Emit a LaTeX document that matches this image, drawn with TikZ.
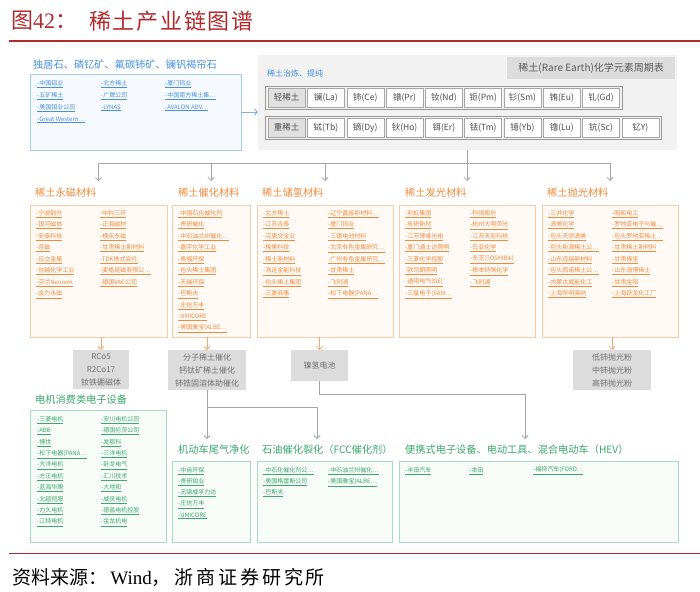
\documentclass[tikz,border=0pt]{standalone}
\usepackage{fontspec}
\setmainfont{Noto Sans CJK SC}
\newfontfamily\lserif{Liberation Serif}
\newfontfamily\titlefont[LetterSpace=8]{Noto Sans CJK SC}
\newfontfamily\srcfont[LetterSpace=15]{Noto Sans CJK SC}
\usetikzlibrary{arrows.meta}
\definecolor{titred}{HTML}{B22A2E}
\definecolor{bl}{HTML}{4A8FDB}
\definecolor{blborder}{HTML}{A9CBF0}
\definecolor{blfill}{HTML}{F6FAFF}
\definecolor{orx}{HTML}{F08A3C}
\definecolor{orborder}{HTML}{F9CBAA}
\definecolor{orfill}{HTML}{FFFAF6}
\definecolor{orarrow}{HTML}{F4A870}
\definecolor{grx}{HTML}{3DA86A}
\definecolor{grborder}{HTML}{A7DDBE}
\definecolor{grfill}{HTML}{F7FCF9}
\definecolor{gbox}{HTML}{DCDCDC}
\definecolor{gtext}{HTML}{707070}
\definecolor{conn}{HTML}{A6A6A6}
\definecolor{ptbg}{HTML}{F2F2F2}
\newcommand{\itemcol}[6]{\foreach \t [count=\i] in {#6} {\node[#2] (#1\i) at (#3,{#4+#5*(\i-1)}) {\underline{-\t}};}}
\tikzset{
  box/.style={anchor=north west, inner sep=0pt, outer sep=0pt, line width=1pt},
  obox/.style={box, draw=orborder, fill=orfill},
  gbx/.style={box, draw=grborder, fill=grfill},
  ttl/.style={anchor=west, inner sep=0pt, font=\fontsize{10.2}{12}\selectfont},
  itm/.style={anchor=west, inner sep=0pt, font=\fontsize{6}{7}\selectfont},
  bitm/.style={itm, text=bl},
  oitm/.style={itm, text=orx},
  gitm/.style={itm, text=grx},
  graybox/.style={box, fill=gbox, text=gtext, align=center, font=\fontsize{8}{13}\selectfont},
  cell/.style={draw=black!35, fill=white, line width=0.5pt, minimum width=37pt, minimum height=19pt, inner sep=0pt, font=\fontsize{8.5}{10}\selectfont, text=black!70},
  ptframe/.style={draw=black!40, line width=0.6pt},
  cn/.style={draw=conn, line width=0.8pt},
  cna/.style={cn, -{Straight Barb[length=3pt,width=6pt]}},
  ora/.style={draw=orarrow, line width=0.8pt, -{Straight Barb[length=3pt,width=6pt]}},
  bla/.style={draw=bl!70, line width=0.8pt, -{Straight Barb[length=3pt,width=6pt]}},
}
\begin{document}
\begin{tikzpicture}[x=1pt,y=-1pt]
\useasboundingbox (0,0) rectangle (700,591);
\fill[white] (0,0) rectangle (700,591);
% header
\node[anchor=west, inner sep=0pt, text=titred, font=\fontsize{22}{24}\selectfont] (fig) at (11,21) {图{\lserif 42}：};
\node[anchor=west, inner sep=0pt, text=titred, font=\fontsize{22}{24}\selectfont] (ttl) at (89,21) {\titlefont 稀土产业链图谱};
\draw[titred, line width=1.2pt] (9,41) -- (700,41);
% ore box
\node[ttl, text=bl] (oreT) at (33,65) {独居石、磷钇矿、氟碳铈矿、镧钒褐帘石};
\node[box, draw=blborder, fill=blfill, minimum width=211pt, minimum height=75pt] (ore) at (30,75) {};
\itemcol{oreA}{bitm}{37}{84}{12}{中国铝业,五矿稀土,美国钼业公司,Great Western…}
\itemcol{oreB}{bitm}{101}{84}{12}{北方稀土,广晟公司,LYNAS}
\itemcol{oreC}{bitm}{165}{84}{12}{厦门钨业,中国南方稀土集…,AVALON ADV…}
% periodic table
\node[box, fill=ptbg, minimum width=419pt, minimum height=95pt] (pt) at (258,55) {};
\node[anchor=west, inner sep=0pt, text=bl, font=\fontsize{8}{9}\selectfont] (ptL) at (267,73) {稀土治炼、提纯};
\node[anchor=north west, fill=gbox, minimum width=168pt, minimum height=22pt, inner sep=0pt, text=black!65, font=\fontsize{10}{12}\selectfont] (ptB) at (507,57) {稀土(Rare Earth)化学元素周期表};
\draw[ptframe] (265.5,86) rectangle (622.5,109);
\node[cell, fill=black!12] (r1c0) at (286.65,97.5) {轻稀土};
\foreach \t [count=\i] in {镧(La),铈(Ce),镨(Pr),钕(Nd),钷(Pm),钐(Sm),铕(Eu),钆(Gd)} {\node[cell] (r1c\i) at ({267+39.3*(\i+0.5)},97.5) {\t};}
\draw[ptframe] (265.5,116) rectangle (661.5,139);
\node[cell, fill=black!12] (r2c0) at (286.65,127.5) {重稀土};
\foreach \t [count=\i] in {铽(Tb),镝(Dy),钬(Ho),铒(Er),铥(Tm),镱(Yb),镥(Lu),钪(Sc),钇Y)} {\node[cell] (r2c\i) at ({267+39.3*(\i+0.5)},127.5) {\t};}
\draw[bla] (ore.east |- 0,112) -- (pt.west |- 0,112);
% orange boxes
\node[ttl, text=orx] (pmT) at (35,193) {稀土永磁材料};
\node[ttl, text=orx] (catT) at (178,193) {稀土催化材料};
\node[ttl, text=orx] (hsT) at (262,193) {稀土储氢材料};
\node[ttl, text=orx] (lumT) at (405,193) {稀土发光材料};
\node[ttl, text=orx] (polT) at (547,193) {稀土抛光材料};
\node[obox, minimum width=137pt, minimum height=132pt] (pm) at (30,205) {};
\node[obox, minimum width=78pt, minimum height=132pt] (cat) at (172,205) {};
\node[obox, minimum width=136pt, minimum height=132pt] (hs) at (257,205) {};
\node[obox, minimum width=136pt, minimum height=132pt] (lum) at (399,205) {};
\node[obox, minimum width=136pt, minimum height=132pt] (pol) at (542,205) {};
\itemcol{pmA}{oitm}{36}{214}{11.5}{宁波韵升,银河磁体,安泰科技,京磁,日立金属,信越化学工业,芬兰Neorem,金力永磁}
\itemcol{pmB}{oitm}{100}{214}{11.5}{中科三环,正海磁材,横店东磁,甘肃稀土新材料,TDK株式会社,麦格昆磁有限公…,德国VAC公司}
\itemcol{catA}{oitm}{178}{214}{11.5}{中国石化催化剂,贵研催化,中石油兰州催化…,嘉宇化学工业,奥福环保,包头稀土集团,天瑞环保,巴斯夫,庄信万丰,UMICORE,美国雅宝(ALBE…}
\itemcol{hsA}{oitm}{263}{214}{11.5}{北方稀土,江苏吉泰,汉唐文宝业,稀美科技,稀土新材料,浩运金能科技,包头稀土集团,三菱商事}
\itemcol{hsB}{oitm}{328}{214}{11.5}{辽宁鑫普新材料…,厦门钨业,三德电池材料,北京有色金属研究…,广州有色金属研究…,甘肃稀土,飞利浦,松下电器(PANA…}
\itemcol{lumA}{oitm}{405}{214}{11.5}{彩虹集团,有研新材,江苏博睿光电,厦门通士达照明,三菱化学控股,欧司朗照明,通用电气(GE),三星电子(SAM…}
\itemcol{lumB}{oitm}{470}{214}{11.5}{科恒股份,杭州大明荧光,江苏天彩科技,日亚化学,东芝(TOSHIBA),根本特殊化学,飞利浦}
\itemcol{polA}{oitm}{548}{214}{11.5}{三井化学,清美化学,包头天骄清美,包头新源稀土公…,山东迈瑞新材料,包头西诺稀土公…,内蒙古威能化工,上海华明高纳}
\itemcol{polB}{oitm}{612}{214}{11.5}{昭和电工,罗地亚电子与催…,包头罗地亚稀土…,甘肃稀土新材料,甘肃稀宝,山东淄博稀土,甘肃金阳,上海跃龙化工厂}
% tree from periodic table
\coordinate (bus) at (0,163);
\coordinate (tip) at (0,181);
\draw[cn] (lum.north |- pt.south) -- (lum.north |- bus);
\draw[cn] (pm.north |- bus) -- (pol.north |- bus);
\foreach \b in {pm,cat,hs,lum,pol} {\draw[cna] (\b.north |- bus) -- (\b.north |- tip);}
% gray boxes
\node[graybox, minimum width=56pt, minimum height=39pt] (gA) at (73,350) {RCo5\\R2Co17\\钕铁硼磁体};
\node[graybox, minimum width=78pt, minimum height=40pt] (gB) at (168,350) {分子稀土催化\\钙钛矿稀土催化\\铈锆固溶体助催化};
\node[graybox, minimum width=57pt, minimum height=31pt] (gC) at (291,350) {镍氢电池};
\node[graybox, minimum width=78pt, minimum height=40pt] (gD) at (573,350) {低铈抛光粉\\中铈抛光粉\\高铈抛光粉};
\draw[ora] (gA.north |- pm.south) -- (gA.north);
\draw[ora] (gB.north |- cat.south) -- (gB.north);
\draw[ora] (gC.north |- hs.south) -- (gC.north);
\draw[ora] (gD.north |- pol.south) -- (gD.north);
% green boxes
\node[ttl, text=grx] (motT) at (35,400) {电机消费类电子设备};
\node[gbx, minimum width=136pt, minimum height=132pt] (mot) at (30,410) {};
\itemcol{motA}{gitm}{37}{420}{11.4}{三菱电机,ABB,博世,松下电器(PANA…,大洋电机,方正电机,蓝海华腾,北超伺服,力久电机,江特电机}
\itemcol{motB}{gitm}{101}{420}{11.4}{安川电机公司,德国伦茨公司,发那科,三洋电机,卧龙电气,汇川技术,大地和,威灵电机,德昌电机控股,金龙机电}
\node[ttl, text=grx] (autoT) at (178,450) {机动车尾气净化};
\node[ttl, text=grx] (fccT) at (262,450) {石油催化裂化（FCC催化剂）};
\node[ttl, text=grx] (hevT) at (405,450) {便携式电子设备、电动工具、混合电动车（HEV）};
\node[gbx, minimum width=78pt, minimum height=81pt] (auto) at (172,461) {};
\node[gbx, minimum width=135pt, minimum height=81pt] (fcc) at (257,461) {};
\node[gbx, minimum width=279pt, minimum height=81pt] (hev) at (399,461) {};
\itemcol{autoA}{gitm}{178}{471}{11.2}{中自环保,贵研铂业,无锡威孚力达,庄信万丰,UMICORE}
\itemcol{fccA}{gitm}{263}{471}{11.2}{中石化催化剂公…,美国格雷斯公司,巴斯夫}
\itemcol{fccB}{gitm}{328}{471}{11.2}{中石油兰州催化…,美国雅宝(ALBE…}
\node[gitm] (hevA) at (405,471) {\underline{-丰田汽车}};
\node[gitm] (hevB) at (469,471) {\underline{-本田}};
\node[gitm] (hevC) at (533,471) {\underline{-福特汽车(FORD…}};
% connectors from gray boxes
\coordinate (bus2) at (0,407);
\coordinate (tip2) at (0,439);
\coordinate (bus3) at (0,394);
\coordinate (hevIn) at (525,439);
\draw[cn] (gB.south) -- (gB.south |- bus2) -- (317,407);
\draw[cna] (gB.south |- bus2) -- (gB.south |- tip2);
\draw[cna] (317,407) -- (317,439);
\draw[cna] (gC.south) -- (gC.south |- bus3) -- (hevIn |- bus3) -- (hevIn);
% footer
\draw[titred, line width=1pt] (9,553) -- (700,553);
\node[anchor=west, inner sep=0pt, font=\fontsize{19}{21}\selectfont, text=black] (src) at (12,577) {资料来源：\,{\lserif Wind}，\hspace{4pt}{\srcfont 浙商证券研究所}};
\end{tikzpicture}
\end{document}
